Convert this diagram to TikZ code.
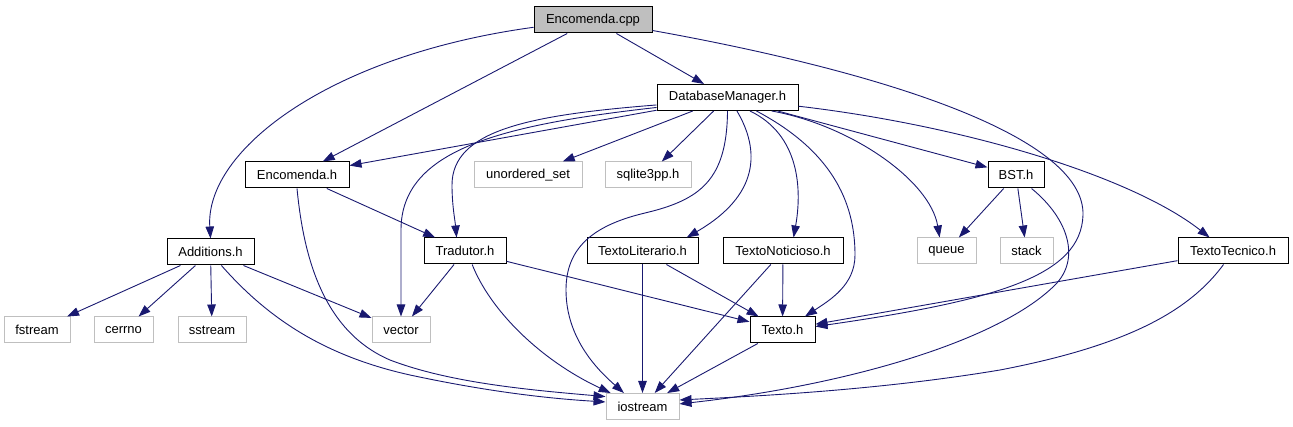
\documentclass[tikz,border=0pt]{standalone}
\usepackage{fontspec}
\setmainfont{Liberation Sans}
\usetikzlibrary{arrows.meta}
\definecolor{edgeblue}{RGB}{25,25,112}
\definecolor{sysgray}{RGB}{191,191,191}

\begin{document}
\begin{tikzpicture}[
    x=1pt, y=-1pt,
    file/.style={draw, line width=1pt, minimum height=26pt, inner sep=2pt, font=\fontsize{13}{15}\selectfont},
    hdr/.style={file, draw=black},
    sys/.style={file, draw=sysgray},
    arrow/.style={-{Triangle[length=12pt,width=8.5pt]}, draw=edgeblue, line width=0.9pt}
]
    \useasboundingbox (0,0) rectangle (1293,427);

    % files
    \node[hdr, fill=sysgray, minimum width=118pt] (cpp) at (593,20) {Encomenda.cpp};
    \node[hdr, minimum width=141pt] (dm) at (727.5,97.5) {DatabaseManager.h};
    \node[hdr, minimum width=104pt] (ench) at (297,175) {Encomenda.h};
    \node[sys, minimum width=108pt] (uset) at (528,175) {unordered\_set};
    \node[sys, minimum width=86pt] (sql) at (648,175) {sqlite3pp.h};
    \node[hdr, minimum width=56pt] (bst) at (1016,175) {BST.h};
    \node[hdr, minimum width=87pt] (add) at (210.5,252) {Additions.h};
    \node[hdr, minimum width=82pt] (trad) at (465,251) {Tradutor.h};
    \node[hdr, minimum width=111pt] (tlit) at (642.5,251) {TextoLiterario.h};
    \node[hdr, minimum width=120pt] (tnot) at (783,251) {TextoNoticioso.h};
    \node[sys, minimum width=59pt] (queue) at (946.5,251) {queue};
    \node[sys, minimum width=53pt] (stack) at (1026.5,251) {stack};
    \node[hdr, minimum width=110pt] (ttec) at (1233,251) {TextoTecnico.h};
    \node[sys, minimum width=66pt] (fstr) at (37,330) {fstream};
    \node[sys, minimum width=59pt] (cerr) at (123.5,330) {cerrno};
    \node[sys, minimum width=68pt] (sstr) at (212,330) {sstream};
    \node[sys, minimum width=58pt] (vec) at (401,330) {vector};
    \node[hdr, minimum width=65pt] (texto) at (782.5,330) {Texto.h};
    \node[sys, minimum width=73pt] (io) at (642.5,406.5) {iostream};

    % includes of Encomenda.cpp
    \draw[arrow] (cpp) -- (dm);
    \draw[arrow] (cpp) -- (ench);
    \draw[arrow] (cpp.187) .. controls (330,55) and (205,150) .. (add.north);
    \draw[arrow] (cpp.-10) .. controls (900,75) and (1085,140) .. (1083,215) .. controls (1081,275) and (1000,300) .. (texto.6);

    % includes of DatabaseManager.h
    \draw[arrow] (dm) -- (ench);
    \draw[arrow] (dm) -- (uset);
    \draw[arrow] (dm) -- (sql);
    \draw[arrow] (dm) -- (bst);
    \draw[arrow] (dm.-7) .. controls (960,125) and (1130,175) .. (ttec.150);
    \draw[arrow] (dm.-17) .. controls (850,125) and (930,180) .. (queue.117);
    \draw[arrow] (dm.-55) .. controls (760,150) and (760,195) .. (tlit.17);
    \draw[arrow] (dm.-31) .. controls (800,135) and (802,190) .. (tnot.52);
    \draw[arrow] (dm.-25) .. controls (830,150) and (855,200) .. (855,255) .. controls (855,285) and (830,300) .. (texto.31);
    \draw[arrow] (dm.south) .. controls (727,180) and (700,200) .. (645,213) .. controls (590,226) and (566,250) .. (566,290) .. controls (566,340) and (600,372) .. (io.144);
    \draw[arrow] (dm.186) .. controls (530,115) and (452,130) .. (452,185) .. controls (452,205) and (455,220) .. (trad.122);
    \draw[arrow] (dm.188) .. controls (500,125) and (401,150) .. (401,230) -- (vec.north);

    % the other headers
    \draw[arrow] (ench) -- (trad);
    \draw[arrow] (ench.south) .. controls (303,250) and (320,330) .. (390,360) .. controls (450,383) and (530,390) .. (io.165);
    \draw[arrow] (add) -- (fstr);
    \draw[arrow] (add) -- (cerr);
    \draw[arrow] (add) -- (sstr);
    \draw[arrow] (add) -- (vec);
    \draw[arrow] (add.-51) .. controls (265,315) and (320,355) .. (410,375) .. controls (480,390) and (540,398) .. (io.173);
    \draw[arrow] (trad) -- (vec);
    \draw[arrow] (trad.-62) .. controls (490,310) and (540,360) .. (io.157);
    \draw[arrow] (trad) -- (texto);
    \draw[arrow] (tlit) -- (texto);
    \draw[arrow] (tlit) -- (io);
    \draw[arrow] (tnot) -- (texto);
    \draw[arrow] (tnot) -- (io);
    \draw[arrow] (texto) -- (io);
    \draw[arrow] (bst) -- (queue);
    \draw[arrow] (bst) -- (stack);
    \draw[arrow] (bst.-41) .. controls (1070,220) and (1080,260) .. (1055,285) .. controls (1000,340) and (850,385) .. (io.4);
    \draw[arrow] (ttec) -- (texto);
    \draw[arrow] (ttec.-125) .. controls (1190,310) and (1130,345) .. (1000,370) .. controls (880,390) and (760,396) .. (io.10);
\end{tikzpicture}
\end{document}
